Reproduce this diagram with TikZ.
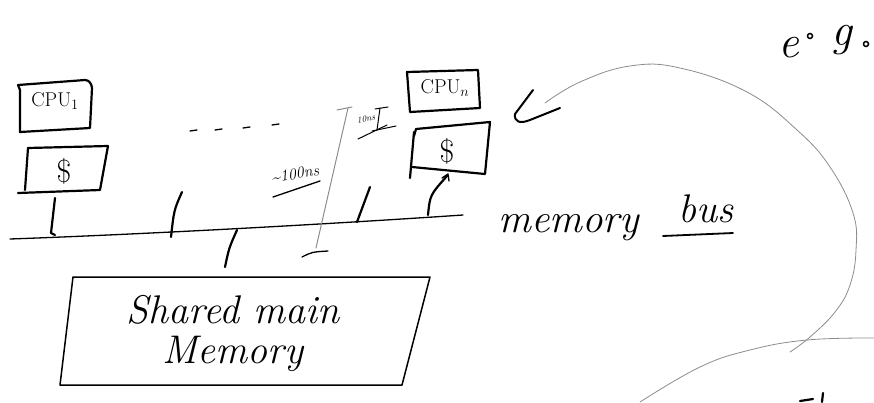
\documentclass[tikz,border=0pt]{standalone}
\usepackage{fontspec}
\begin{document}
\begin{tikzpicture}[x=1pt,y=-1pt,
  pen/.style={line width=2.2pt,line cap=round,line join=round},
  thinpen/.style={line width=1.3pt,line cap=round,line join=round},
  faint/.style={line width=0.8pt,black!45,line cap=round},
  hand/.style={inner sep=0pt,font=\itshape},
]
\useasboundingbox (0,0) rectangle (874,402);

% CPU_1 and its cache
\draw[pen] (20,90) -- (18,85) -- (85,80) to[out=0,in=95] (92,88) -- (90,128) -- (20,132) -- cycle;
\node[inner sep=0pt,font=\fontsize{20}{20}\selectfont] (cpu1) at (55,101) {CPU$_1$};
\draw[pen] (28,148) -- (108,146) -- (100,190) -- (18,193);
\draw[pen] (28,148) -- (25,190);
\node[inner sep=0pt,font=\fontsize{32}{32}\selectfont] (c1) at (64,171) {\$};

% CPU_n and its cache
\draw[pen] (407,72) -- (478,70) -- (480,108) -- (410,112) -- cycle;
\node[inner sep=0pt,font=\fontsize{20}{20}\selectfont] (cpun) at (445,88) {CPU$_n$};
\draw[pen] (414,136) -- (416,129) -- (490,122) -- (485,174) -- (412,167);
\draw[pen] (414,132) -- (410,178);
\node[inner sep=0pt,font=\fontsize{32}{32}\selectfont] (cn) at (447,151) {\$};

% dots between the CPUs
\foreach \a/\b in {190/131,215/130,243/128,272/125}
  \draw[thinpen] (\a,\b) -- ++(7,-1);

% memory bus
\coordinate (busL) at (10,239);
\coordinate (busR) at (463,215);
\draw[thinpen] (busL) .. controls (150,234) and (330,224) .. (busR);

% ticks onto the bus
\draw[pen] (55,198) -- (51,233) -- (55,235);
\draw[pen] (182,192) .. controls (174,210) .. (171,237);
\draw[pen] (237,230) .. controls (229,248) .. (225,267);
\draw[pen] (370,187) -- (357,222);
\coordinate (arrT) at (447,176);
\draw[pen] (428,215) .. controls (430,195) .. (arrT);
\draw[thinpen] (442,178) -- (448,174) -- (449,181);

% latency bar ~100ns
\draw[faint,line width=1pt] (348,108) -- (316,248);
\draw[faint,line width=1pt] (337,110) -- (352,107);
\draw[thinpen] (302,257) .. controls (312,252) .. (328,251);
\node[hand,font=\itshape\fontsize{16}{16}\selectfont,rotate=10] (l100) at (295,174) {\textasciitilde100ns};
\draw[thinpen] (273,197) -- (320,181);

% latency bar 10ns
\node[hand,font=\itshape\fontsize{9}{9}\selectfont,rotate=10] (l10) at (366,119) {10ns};
\draw[thinpen,line width=1pt] (380,108) -- (377,130);
\draw[thinpen,line width=1pt] (375,109) -- (388,107);
\draw[thinpen,line width=1pt] (372,131) -- (396,126);
\draw[thinpen,line width=1pt] (358,139) -- (387,125);

% memory bus label
\node[hand,anchor=base west,font=\itshape\fontsize{41}{41}\selectfont] (mem) at (498,232) {memory};
\node[hand,anchor=base west,font=\itshape\fontsize{40}{40}\selectfont] (bus) at (678,222) {bus};
\draw[thinpen,line width=1.8pt] (663,236) -- (733,233);

% shared main memory
\draw[thinpen,line width=1.5pt] (73,277) -- (430,277) -- (402,385) -- (60,385) -- cycle;
\node[hand,align=center,font=\itshape\fontsize{40}{40}\selectfont] (smm) at (233,333) {Shared main\\Memory};

% e.g.
\node[hand,anchor=base,font=\itshape\fontsize{46}{46}\selectfont] (ege) at (789,57) {e};
\draw[line width=1.5pt] (810,36) circle (2.5pt);
\node[hand,anchor=base,font=\itshape\fontsize{46}{46}\selectfont] (egg) at (842,45) {g};
\draw[line width=1.5pt] (866,44) circle (2.5pt);

% the big curved arrow pointing at CPU_n
\draw[faint] plot[smooth,tension=0.7] coordinates {(545,103) (580,82) (630,66) (680,68) (747,92) (797,130) (830,167) (853,213) (856,250) (850,285) (835,312) (810,337) (790,352)};
\draw[pen,line width=2pt] (533,90) -- (515,114) .. controls (514,122) and (520,124) .. (530,120) -- (560,108);

% second faint curve
\draw[faint] plot[smooth,tension=0.7] coordinates {(640,402) (700,367) (750,350) (807,340) (874,338)};

% cut-off writing at the bottom edge
\draw[pen] (823,393) -- (822,402);
\draw[pen] (800,401) -- (813,399);
\end{tikzpicture}
\end{document}
